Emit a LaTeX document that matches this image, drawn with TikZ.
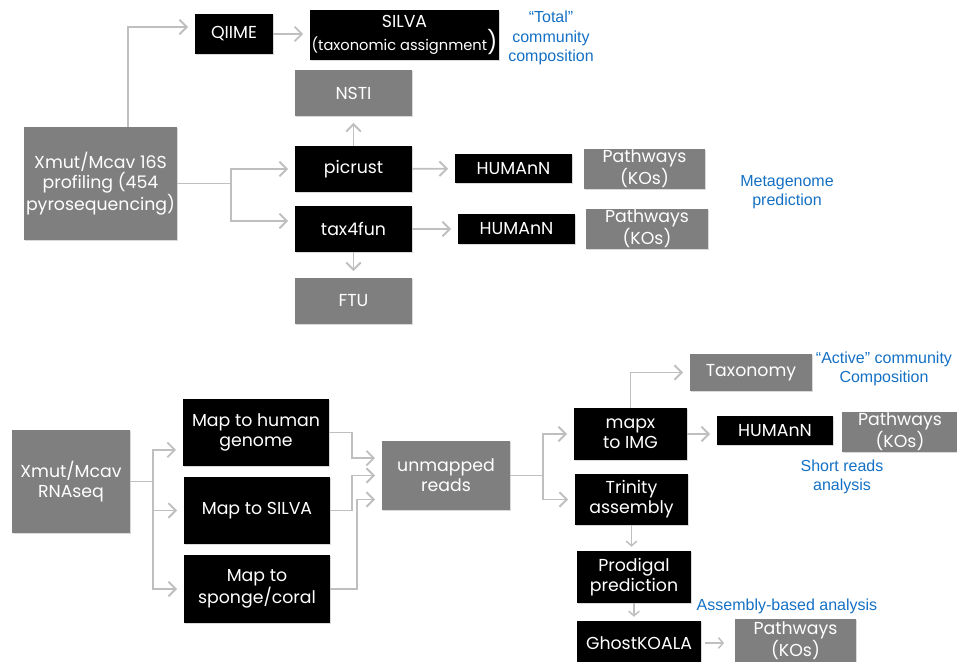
\documentclass[tikz,border=0pt]{standalone}
\usepackage{fontspec}
\setmainfont{Poppins}
\newfontfamily\notefont{Liberation Sans}
\usetikzlibrary{arrows.meta}
\usetikzlibrary{shadows}
\definecolor{boxgray}{RGB}{127,127,127}
\definecolor{linegray}{RGB}{191,191,191}
\definecolor{noteblue}{RGB}{20,112,196}
\tikzset{
    boxsize/.style 2 args = {minimum width=#1*0.75pt, minimum height=#2*0.75pt},
    blackbox/.style = {rectangle, fill=black, text=white, align=center, inner sep=1pt,
                       font=\fontsize{13}{15}\selectfont,
                       drop shadow={opacity=0.3, shadow xshift=0.8pt, shadow yshift=-0.8pt}},
    graybox/.style = {blackbox, fill=boxgray},
    note/.style = {align=center, text=noteblue, font=\notefont\fontsize{12}{14.5}\selectfont},
    line/.style = {draw=linegray, line width=1.4pt},
    edge/.style = {line, -{Straight Barb[length=5.5pt,width=11pt,line width=1.4pt]}, shorten >=5pt},
    edges/.style = {draw=linegray, line width=1.1pt, -{Straight Barb[length=3.5pt,width=8pt,line width=1.1pt]}, shorten >=3pt}
}
\begin{document}
\begin{tikzpicture}[x=0.75pt,y=-0.75pt]
\path[use as bounding box] (0,0) rectangle (957,661);
%
% 16S profiling
\node[graybox,boxsize={153}{113}] at (100.5,183.5) (seq16) {Xmut/Mcav 16S\\profiling (454\\pyrosequencing)};
\node[blackbox,boxsize={78}{40}] at (234,34) (qiime) {QIIME};
\node[blackbox,boxsize={185}{50}] at (404.5,35) (silva) {SILVA\\{\fontsize{11}{12}\selectfont(taxonomic assignment}{\fontsize{17}{12}\selectfont)}};
\node[graybox,boxsize={117}{46}] at (353.5,93) (nsti) {NSTI};
\node[blackbox,boxsize={117}{46}] at (353.5,169) (picrust) {picrust};
\node[blackbox,boxsize={117}{46}] at (353.5,229) (tax4fun) {tax4fun};
\node[graybox,boxsize={117}{46}] at (353.5,301) (ftu) {FTU};
\node[blackbox,boxsize={117}{29}] at (513.5,168.5) (humann1) {HUMAnN};
\node[graybox,boxsize={121}{38}] at (644.5,169) (path1) {Pathways\\(KOs)};
\node[blackbox,boxsize={117}{30}] at (516.5,229) (humann2) {HUMAnN};
\node[graybox,boxsize={122}{38}] at (647,229) (path2) {Pathways\\(KOs)};
\node[note] at (551,38) (total) {“Total”\\community\\composition};
\node[note] at (787,192) (meta) {Metagenome\\prediction};
%
\coordinate (jq) at (128,27);
\coordinate (j1) at (231,183.5);
\draw[edge] (seq16.north -| jq) -- (jq) -- (jq -| qiime.west);
\draw[edge] (qiime.east) -- (qiime.east -| silva.west);
\draw[edge] (seq16.east) -- (j1) |- (picrust.west);
\draw[edge] (j1) |- ([yshift=6pt]tax4fun.west);
\draw[edge] (picrust) -- (nsti);
\draw[edge] (tax4fun) -- (ftu);
\draw[edge] (picrust) -- (humann1);
\draw[edge] (tax4fun) -- (humann2);
%
% RNAseq
\node[graybox,boxsize={118}{103}] at (71,481.5) (rna) {Xmut/Mcav\\RNAseq};
\node[blackbox,boxsize={146}{67}] at (256,432.5) (maphum) {Map to human\\genome};
\node[blackbox,boxsize={146}{67}] at (257,510.5) (mapsil) {Map to SILVA};
\node[blackbox,boxsize={146}{68}] at (257,589) (mapspo) {Map to\\sponge/coral};
\node[graybox,boxsize={128}{69}] at (446,475.5) (unmapped) {unmapped\\reads};
\node[blackbox,boxsize={113}{52}] at (630.5,434) (mapx) {mapx\\to IMG};
\node[blackbox,boxsize={113}{51}] at (631.5,499.5) (trinity) {Trinity\\assembly};
\node[graybox,boxsize={122}{37}] at (751,372.5) (taxonomy) {Taxonomy};
\node[blackbox,boxsize={116}{29}] at (775,430.5) (humann3) {HUMAnN};
\node[graybox,boxsize={116}{38}] at (900,432) (path3) {Pathways\\(KOs)};
\node[blackbox,boxsize={114}{52}] at (634,577) (prodigal) {Prodigal\\prediction};
\node[blackbox,boxsize={124}{44}] at (639,643) (ghost) {GhostKOALA};
\node[graybox,boxsize={121}{44}] at (795.5,641) (path4) {Pathways\\(KOs)};
\node[note] at (884,369) (active) {“Active” community\\Composition};
\node[note] at (842,477) (short) {Short reads\\analysis};
\node[note] at (787,606) (assembly) {Assembly-based analysis};
%
\coordinate (j2) at (153,481.5);
\coordinate (j3) at (352,0);
\coordinate (j4) at (357,0);
\coordinate (j5) at (543,475.5);
\draw[edge] (rna.east) -- (j2) |- ([yshift=-13pt]maphum.west);
\draw[edge] (j2) |- (mapsil.west);
\draw[edge] (j2) |- (mapspo.west);
\draw[edge] (maphum.east) -- (maphum.east -| j3) |- ([yshift=13pt]unmapped.west);
\draw[edge] (mapsil.east) -- (mapsil.east -| j3) |- (unmapped.west);
\draw[edge] (mapspo.east) -- (mapspo.east -| j4) |- ([yshift=-18pt]unmapped.west);
\draw[edge] (unmapped.east) -- (j5) |- (mapx.west);
\draw[edge] (j5) |- (trinity.west);
\draw[edge] (mapx.north) |- (taxonomy.west);
\draw[edge] (mapx.east) -- (mapx.east -| humann3.west);
\draw[edges] (trinity.south) -- (trinity.south |- prodigal.north);
\draw[edges] (prodigal.south) -- (prodigal.south |- ghost.north);
\draw[edges, shorten <=3pt, shorten >=8pt] (ghost.east) -- (ghost.east -| path4.west);

\end{tikzpicture}
\end{document}
